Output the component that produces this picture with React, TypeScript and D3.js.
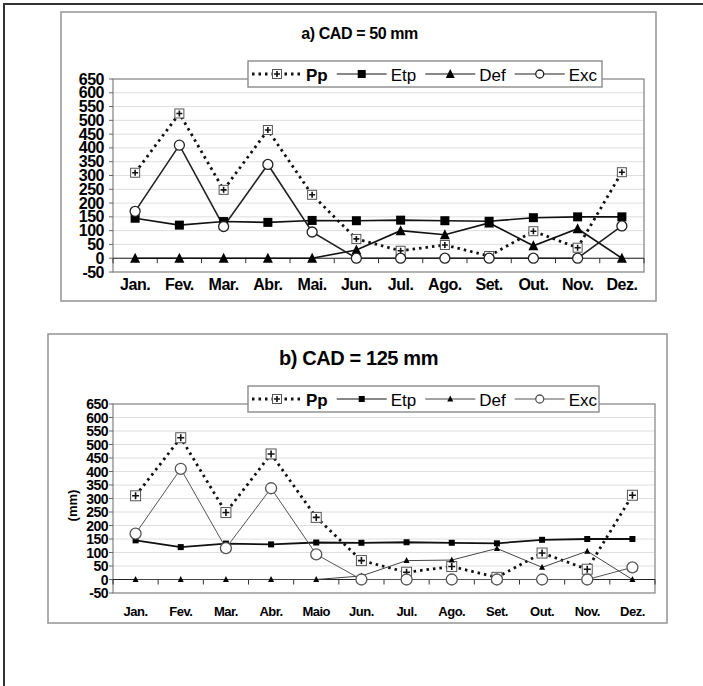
import React, { useRef, useEffect } from 'react';
import * as d3 from 'd3';

// month labels (panel b spells out "Maio")
const MONTHS_A = ['Jan.', 'Fev.', 'Mar.', 'Abr.', 'Mai.', 'Jun.', 'Jul.', 'Ago.', 'Set.', 'Out.', 'Nov.', 'Dez.'];
const MONTHS_B = ['Jan.', 'Fev.', 'Mar.', 'Abr.', 'Maio', 'Jun.', 'Jul.', 'Ago.', 'Set.', 'Out.', 'Nov.', 'Dez.'];
const Y_TICKS = [-50, 0, 50, 100, 150, 200, 250, 300, 350, 400, 450, 500, 550, 600, 650];

// water balance series (mm)
const PP = [310, 525, 248, 465, 230, 70, 27, 48, 8, 98, 38, 312];
const ETP = [145, 120, 133, 130, 137, 136, 138, 136, 134, 147, 150, 150];
const DEF_A = [0, 0, 0, 0, 0, 30, 100, 85, 128, 45, 107, 0];
const EXC_A = [170, 410, 115, 340, 95, 0, 0, 0, 0, 0, 0, 117];
const DEF_B = [0, 0, 0, 0, 0, 13, 70, 72, 115, 45, 105, 0];
const EXC_B = [170, 410, 116, 338, 93, 0, 0, 0, 0, 0, 0, 45];

const FONT = '"Liberation Sans", Arial, Helvetica, sans-serif';

type Marker = 'crossbox' | 'square' | 'triangle' | 'circle';

interface SeriesStyle {
  name: string;
  values: number[];
  marker: Marker;
  size: number;
  stroke: string;
  width: number;
  dash?: string;
  bold?: boolean;
}

interface PanelOpts {
  box: [number, number, number, number];
  plot: { left: number; right: number; top: number; bottom: number };
  title: string;
  titleY: number;
  titleSize: number;
  months: string[];
  yFont: number;
  yLabelX: number;
  xFont: number;
  xLabelY: number;
  legend: [number, number, number, number];
  yTitle?: boolean;
  series: SeriesStyle[];
}

function drawMarker(g: any, m: Marker, x: number, y: number, s: number, color: string) {
  const h = s / 2;
  if (m === 'crossbox') {
    g.append('rect').attr('x', x - h).attr('y', y - h).attr('width', s).attr('height', s)
      .attr('fill', '#fff').attr('stroke', '#555').attr('stroke-width', 1);
    g.append('path').attr('d', `M${x - h + 1.5},${y}H${x + h - 1.5}M${x},${y - h + 1.5}V${y + h - 1.5}`)
      .attr('stroke', '#111').attr('stroke-width', 1.6);
  } else if (m === 'square') {
    g.append('rect').attr('x', x - h).attr('y', y - h).attr('width', s).attr('height', s).attr('fill', '#000');
  } else if (m === 'triangle') {
    g.append('path').attr('d', `M${x},${y - h - 1}L${x + h + 0.5},${y + h}L${x - h - 0.5},${y + h}Z`).attr('fill', '#000');
  } else {
    g.append('circle').attr('cx', x).attr('cy', y).attr('r', h)
      .attr('fill', '#fff').attr('stroke', color).attr('stroke-width', 1.3);
  }
}

function drawPanel(svg: any, o: PanelOpts) {
  const [bx, by, bw, bh] = o.box;
  const { left, right, top, bottom } = o.plot;
  const g = svg.append('g');

  g.append('rect').attr('x', bx).attr('y', by).attr('width', bw).attr('height', bh)
    .attr('fill', '#fff').attr('stroke', '#9a9a9a').attr('stroke-width', 1.6);

  g.append('text').attr('x', (bx + bx + bw) / 2 + 1).attr('y', o.titleY)
    .attr('text-anchor', 'middle').attr('dominant-baseline', 'central')
    .style('font-family', FONT).style('font-weight', 'bold').style('font-size', `${o.titleSize}px`)
    .style('letter-spacing', '-0.4px').text(o.title);

  const x = d3.scaleBand().domain(o.months).range([left, right]);
  const cx = (i: number) => (x(o.months[i]) as number) + x.bandwidth() / 2;
  const y = d3.scaleLinear().domain([-50, 650]).range([bottom, top]);

  // gridlines
  g.append('g').selectAll('line').data(Y_TICKS.slice(1, -1)).enter().append('line')
    .attr('x1', left).attr('x2', right).attr('y1', (d: number) => y(d)).attr('y2', (d: number) => y(d))
    .attr('stroke', '#dedede').attr('stroke-width', 1);

  g.append('rect').attr('x', left).attr('y', top).attr('width', right - left).attr('height', bottom - top)
    .attr('fill', 'none').attr('stroke', '#8a8a8a').attr('stroke-width', 1.3);

  // y ticks + labels
  g.append('g').selectAll('line').data(Y_TICKS).enter().append('line')
    .attr('x1', left - 4).attr('x2', left).attr('y1', (d: number) => y(d)).attr('y2', (d: number) => y(d))
    .attr('stroke', '#666');
  g.append('g').selectAll('text').data(Y_TICKS).enter().append('text')
    .attr('x', o.yLabelX).attr('y', (d: number) => y(d)).attr('text-anchor', 'end').attr('dominant-baseline', 'central')
    .style('font-family', FONT).style('font-weight', 'bold').style('font-size', `${o.yFont}px`)
    .style('letter-spacing', '-0.5px').text((d: number) => d);

  if (o.yTitle) {
    g.append('text').attr('transform', `translate(72,${(top + bottom) / 2 + 7}) rotate(-90)`)
      .attr('text-anchor', 'middle').attr('dominant-baseline', 'central')
      .style('font-family', FONT).style('font-weight', 'bold').style('font-size', '13px').text('(mm)');
  }

  // category axis at zero
  const y0 = y(0);
  g.append('line').attr('x1', left).attr('x2', right).attr('y1', y0).attr('y2', y0).attr('stroke', '#222').attr('stroke-width', 1.1);
  g.append('g').selectAll('line').data(d3.range(o.months.length + 1)).enter().append('line')
    .attr('x1', (i: number) => left + i * x.bandwidth()).attr('x2', (i: number) => left + i * x.bandwidth())
    .attr('y1', y0).attr('y2', y0 + 5).attr('stroke', '#333');
  g.append('g').selectAll('text').data(o.months).enter().append('text')
    .attr('x', (_: string, i: number) => cx(i)).attr('y', o.xLabelY)
    .attr('text-anchor', 'middle').attr('dominant-baseline', 'central')
    .style('font-family', FONT).style('font-weight', 'bold').style('font-size', `${o.xFont}px`)
    .style('letter-spacing', '-0.5px').text((d: string) => d);

  // series
  o.series.forEach((s) => {
    const line = d3.line<number>().x((_, i) => cx(i)).y((d) => y(d));
    g.append('path').datum(s.values).attr('d', line).attr('fill', 'none')
      .attr('stroke', s.stroke).attr('stroke-width', s.width)
      .attr('stroke-dasharray', s.dash || null);
  });
  o.series.forEach((s) => {
    s.values.forEach((v, i) => drawMarker(g, s.marker, cx(i), y(v), s.size, s.stroke));
  });

  // legend
  const [lx, ly, lw, lh] = o.legend;
  g.append('rect').attr('x', lx).attr('y', ly).attr('width', lw).attr('height', lh)
    .attr('fill', '#fff').attr('stroke', '#8a8a8a').attr('stroke-width', 1.4);
  const lc = ly + lh / 2;
  let cur = lx + 4;
  o.series.forEach((s) => {
    g.append('line').attr('x1', cur).attr('x2', cur + 50).attr('y1', lc).attr('y2', lc)
      .attr('stroke', s.stroke).attr('stroke-width', s.dash ? s.width : 1.2)
      .attr('stroke-dasharray', s.dash || null);
    drawMarker(g, s.marker, cur + 25, lc, s.marker === 'crossbox' ? 9 : Math.min(s.size, 8), s.stroke);
    const t = g.append('text').attr('x', cur + 54).attr('y', lc + 1).attr('dominant-baseline', 'central')
      .style('font-family', FONT).style('font-size', '17px').style('font-weight', s.bold ? 'bold' : 'normal')
      .text(s.name);
    const tw = (t.node() as SVGTextElement).getComputedTextLength();
    cur += 54 + tw + 9;
  });
}

const App: React.FC = () => {
  const svgRef = useRef<SVGSVGElement>(null);

  useEffect(() => {
    if (!svgRef.current) return;
    const svg = d3.select(svgRef.current);
    svg.selectAll('*').remove();

    svg.append('rect').attr('width', 703).attr('height', 686).attr('fill', '#fff');
    svg.append('path').attr('d', 'M4,690V4H706').attr('fill', 'none').attr('stroke', '#333').attr('stroke-width', 2);

    drawPanel(svg, {
      box: [61, 12, 595, 289],
      plot: { left: 113, right: 644, top: 79, bottom: 272 },
      title: 'a) CAD = 50 mm',
      titleY: 33,
      titleSize: 16,
      months: MONTHS_A,
      yFont: 16,
      yLabelX: 104,
      xFont: 16,
      xLabelY: 284,
      legend: [248, 61, 354, 26],
      series: [
        { name: 'Pp', values: PP, marker: 'crossbox', size: 9, stroke: '#111', width: 2.8, dash: '2.5,4', bold: true },
        { name: 'Etp', values: ETP, marker: 'square', size: 9, stroke: '#111', width: 1.6 },
        { name: 'Def', values: DEF_A, marker: 'triangle', size: 9, stroke: '#111', width: 1.6 },
        { name: 'Exc', values: EXC_A, marker: 'circle', size: 10, stroke: '#222', width: 1.6 },
      ],
    });

    drawPanel(svg, {
      box: [48, 334, 619, 289],
      plot: { left: 113, right: 655, top: 404, bottom: 593 },
      title: 'b) CAD = 125 mm',
      titleY: 358,
      titleSize: 20,
      months: MONTHS_B,
      yFont: 14,
      yLabelX: 108,
      xFont: 13,
      xLabelY: 611,
      legend: [248, 386, 351, 26],
      yTitle: true,
      series: [
        { name: 'Pp', values: PP, marker: 'crossbox', size: 10, stroke: '#111', width: 2.8, dash: '2.5,4', bold: true },
        { name: 'Etp', values: ETP, marker: 'square', size: 6, stroke: '#111', width: 1.8 },
        { name: 'Def', values: DEF_B, marker: 'triangle', size: 5, stroke: '#444', width: 1 },
        { name: 'Exc', values: EXC_B, marker: 'circle', size: 11, stroke: '#555', width: 1 },
      ],
    });
  }, []);

  return (
    <div style={{ position: 'absolute', left: 0, top: 0 }}>
      <svg ref={svgRef} width={703} height={686} style={{ display: 'block' }}></svg>
    </div>
  );
};

export default App;
